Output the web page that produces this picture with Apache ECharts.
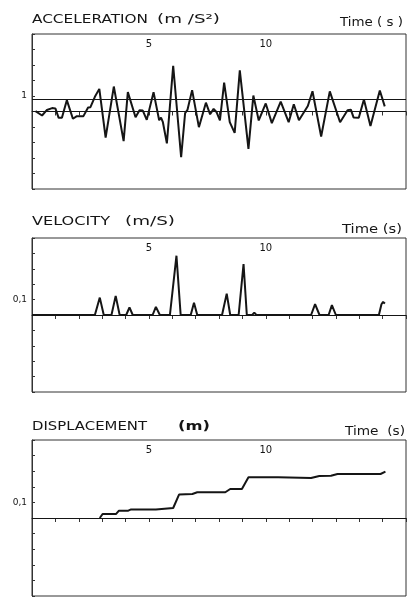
<!DOCTYPE html>
<html>
<head>
<meta charset="utf-8">
<script src="https://cdn.jsdelivr.net/npm/echarts@6/dist/echarts.min.js"></script>
<style>html,body{margin:0;padding:0;background:#fff;}#c{width:409px;height:598px;}</style>
</head>
<body>
<div id="c"></div>
<script>
// ---- data ----
const accT = [0.15,0.43,0.64,0.86,1.0,1.14,1.28,1.49,1.75,1.92,2.2,2.4,2.5,2.69,2.88,3.15,3.5,3.92,4.1,4.43,4.6,4.74,4.91,5.2,5.44,5.52,5.6,5.77,6.04,6.38,6.55,6.65,6.85,7.14,7.44,7.62,7.77,7.9,8.04,8.22,8.46,8.67,8.89,9.26,9.47,9.7,10.0,10.26,10.64,10.98,11.2,11.42,11.8,12.0,12.37,12.74,13.18,13.5,13.64,13.76,13.98,14.2,14.48,14.88,15.09];
const accV = [0.02,-0.26,0.10,0.22,0.2,-0.41,-0.41,0.73,-0.47,-0.30,-0.30,0.26,0.28,0.95,1.46,-1.68,1.61,-1.91,1.25,-0.37,0.08,0.06,-0.54,1.25,-0.56,-0.4,-0.69,-2.06,2.95,-2.95,-0.1,0.1,1.38,-1.01,0.57,-0.18,0.17,-0.05,-0.58,1.86,-0.69,-1.38,2.65,-2.41,1.03,-0.58,0.52,-0.75,0.63,-0.69,0.47,-0.56,0.35,1.31,-1.61,1.30,-0.69,0.08,0.12,-0.39,-0.4,0.78,-0.93,1.35,0.33];
const accRefLines = [0, 0.8];

const velT = [0,2.69,2.9,3.07,3.4,3.58,3.75,4.03,4.17,4.31,5.16,5.3,5.47,5.9,6.18,6.36,6.79,6.93,7.07,8.13,8.33,8.48,8.84,9.05,9.19,9.42,9.51,9.6,11.94,12.11,12.3,12.69,12.83,13.0,14.84,14.95,15.02,15.1];
const velV = [0,0,0.113,0,0,0.124,0,0,0.049,0,0,0.053,0,0,0.385,0,0,0.079,0,0,0.139,0,0,0.331,0,0,0.015,0,0,0.07,0,0,0.064,0,0,0.07,0.085,0.075];

const dispT = [2.9,3.02,3.6,3.72,4.12,4.24,5.3,5.37,6.04,6.29,6.86,7.07,8.27,8.48,8.98,9.26,10.53,11.94,12.29,12.79,13.07,14.91,15.12];
const dispV = [0,0.026,0.026,0.047,0.047,0.055,0.055,0.064,0.064,0.150,0.154,0.165,0.165,0.186,0.186,0.261,0.261,0.256,0.269,0.271,0.282,0.282,0.297];

const xTickValues = [5, 10];
const xTickLabels = ['5', '10'];
const accYLabelValue = 1, accYLabel = '1';
const velYLabelValue = 0.1, velYLabel = '0,1';
const dispYLabelValue = 0.1, dispYLabel = '0,1';

// ---- chart ----
const ink = '#151515';
const chart = echarts.init(document.getElementById('c'), null, {renderer: 'canvas'});
const zip = (a, b) => a.map((t, i) => [t, b[i]]);

const grids = [
  {left: 32, right: 1, top: 34, height: 155},
  {left: 32, right: 1, top: 238, height: 154},
  {left: 32, right: 1, top: 440, height: 156}
].map(g => Object.assign(g, {show: true, borderColor: '#333', borderWidth: 1, containLabel: false}));

const xAxes = [0, 1, 2].map(i => ({
  gridIndex: i, type: 'value', position: 'top', min: 0, max: 16, interval: 1,
  axisLine: {show: true, lineStyle: {color: '#333', width: 1}},
  axisTick: {show: true, inside: true, length: 4, lineStyle: {color: '#333', width: 1}},
  axisLabel: {inside: true, margin: 5, fontSize: 10, color: ink, fontFamily: 'DejaVu Sans',
    formatter: v => { const k = xTickValues.indexOf(Math.round(v)); return (k >= 0 && Math.abs(v - xTickValues[k]) < 1e-9) ? xTickLabels[k] : ''; }},
  splitLine: {show: false}
}));

function yAxis(i, lim, step, lv, lt) {
  return {
    gridIndex: i, type: 'value', min: -lim, max: lim, interval: step,
    axisLine: {show: true, onZero: false, lineStyle: {color: '#333', width: 1}},
    axisTick: {show: true, inside: true, length: 3, lineStyle: {color: '#333', width: 1}},
    axisLabel: {margin: 5, fontSize: 9, color: ink, fontFamily: 'DejaVu Sans',
      formatter: v => Math.abs(v - lv) < 1e-9 ? lt : ''},
    splitLine: {show: false}
  };
}
const yAxes = [
  yAxis(0, 5, 1, accYLabelValue, accYLabel),
  yAxis(1, 0.5, 0.1, velYLabelValue, velYLabel),
  yAxis(2, 0.5, 0.1, dispYLabelValue, dispYLabel)
];

function ml(vals) {
  return {silent: true, symbol: 'none', label: {show: false},
    lineStyle: {color: ink, width: 1.2, type: 'solid'},
    data: vals.map(v => ({yAxis: v}))};
}
const lineSeries = (i, data, lines) => ({
  type: 'line', xAxisIndex: i, yAxisIndex: i, data, showSymbol: false, symbol: 'none',
  lineStyle: {color: ink, width: 2}, animation: false, markLine: ml(lines)
});

// text helper: stretch text horizontally to the reference width
const mc = document.createElement('canvas').getContext('2d');
function txt(str, x, cy, w, bold) {
  const font = (bold ? 'bold ' : '') + '12px "DejaVu Sans"';
  mc.font = font;
  const nat = mc.measureText(str).width;
  return {type: 'text', x, y: cy, scaleX: w / nat, scaleY: 1,
    style: {text: str, font, fill: ink, verticalAlign: 'middle', align: 'left'}};
}

chart.setOption({
  animation: false,
  backgroundColor: '#fff',
  grid: grids,
  xAxis: xAxes,
  yAxis: yAxes,
  series: [
    lineSeries(0, zip(accT, accV), accRefLines),
    lineSeries(1, zip(velT, velV), [0]),
    lineSeries(2, zip(dispT, dispV), [0])
  ],
  graphic: [
    txt('ACCELERATION', 32, 20, 116),
    txt('(m /S²)', 157, 20, 63),
    txt('Time ( s )', 340, 23, 63),
    txt('VELOCITY', 32, 222, 78),
    txt('(m/S)', 125, 222, 50),
    txt('Time (s)', 342, 230, 60),
    txt('DISPLACEMENT', 32, 427, 115),
    txt('(m)', 178, 427, 32, true),
    txt('Time  (s)', 345, 432, 60)
  ]
});
</script>
</body>
</html>
